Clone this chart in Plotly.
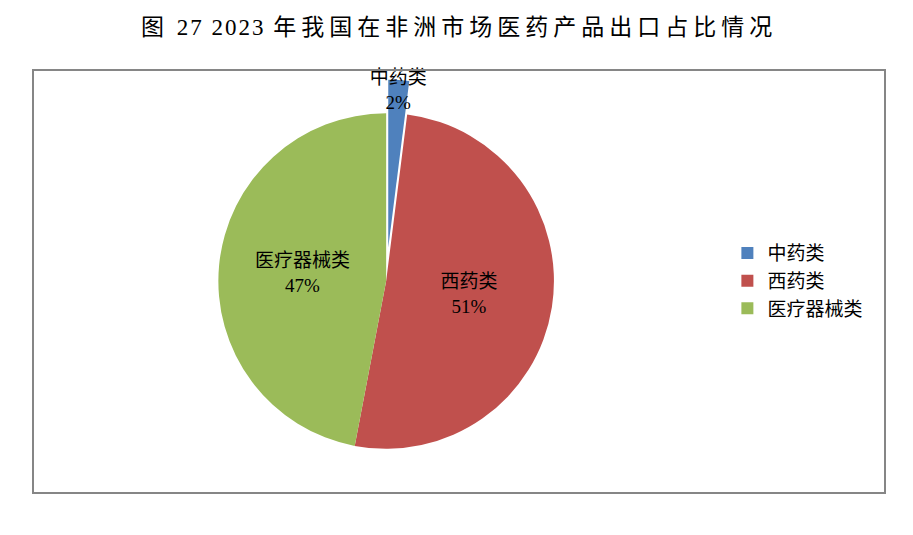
import re
import plotly.graph_objects as go

categories = ["中药类", "西药类", "医疗器械类"]
shares = [2, 51, 47]
colors = ["#4F81BD", "#C0504D", "#9BBB59"]
title_text = "图 27 2023 年我国在非洲市场医药产品出口占比情况"

FONT = "'Liberation Serif', 'Noto Sans CJK SC', serif"


def spaced(text):
    # wider tracking for CJK characters, tighter for Latin digits
    out = []
    for run in re.findall(r"[\x00-\x7f]+|[^\x00-\x7f]+", text):
        ls = 2 if run.isascii() else 5
        out.append('<span style="letter-spacing:%dpx">%s</span>' % (ls, run))
    return "".join(out)


fig = go.Figure(go.Pie(
    labels=categories,
    values=shares,
    sort=False,
    direction="clockwise",
    rotation=0,
    pull=[0.2, 0, 0],
    automargin=False,
    marker=dict(colors=colors, line=dict(width=0)),
    texttemplate="%{label}<br>%{percent:.0%}",
    textposition="inside",
    insidetextorientation="horizontal",
    textfont=dict(family=FONT, size=19, color="black"),
    insidetextfont=dict(family=FONT, size=19, color="black"),
    domain=dict(x=[0.178, 0.651], y=[0.025, 0.977]),
    hoverinfo="label+percent",
))

fig.update_layout(
    width=905, height=527,
    margin=dict(l=25, r=28, t=62, b=42),
    paper_bgcolor="white",
    plot_bgcolor="white",
    uniformtext=dict(minsize=19, mode="show"),
    title=dict(
        text=spaced(title_text),
        x=0.5, xref="paper", xanchor="center",
        y=1 - 19 / 527, yref="container", yanchor="middle",
        font=dict(family=FONT, size=23, color="black"),
    ),
    legend=dict(
        x=0.815, xanchor="left", y=0.501, yanchor="middle",
        font=dict(family=FONT, size=19, color="black"),
        bgcolor="rgba(0,0,0,0)",
    ),
    shapes=[dict(type="rect", xref="paper", yref="paper", x0=0, x1=1, y0=0, y1=1,
                 line=dict(color="#868686", width=2), fillcolor="rgba(0,0,0,0)")],
)

fig.write_html("out.html")
